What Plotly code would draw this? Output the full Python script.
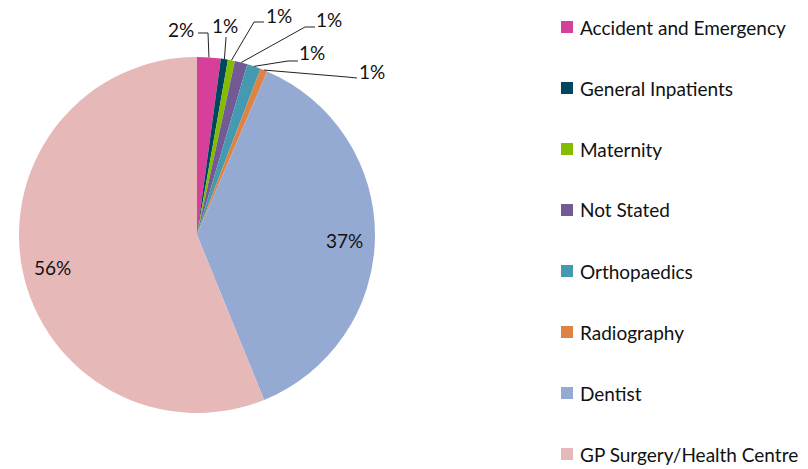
import math
import plotly.graph_objects as go

# ---- data ----
categories = ["Accident and Emergency", "General Inpatients", "Maternity", "Not Stated",
              "Orthopaedics", "Radiography", "Dentist", "GP Surgery/Health Centre"]
values = [2.14, 0.64, 0.64, 1.14, 1.25, 0.64, 37.4, 56.15]
colors = ["#D6409A", "#00465F", "#84BD00", "#725A95", "#4599B0", "#DE8344", "#95AAD2", "#E6B9B8"]

# ---- layout constants (pixels) ----
W, H = 808, 469
CX, CY, R = 197, 235, 178
FONT = "Lato"
FS = 19
# outside label centres and leader line start/elbow for the small slices
OUT_LABEL = {0: (181, 29), 1: (225, 26), 2: (279, 15), 3: (329, 19), 4: (312, 53), 5: (372, 71)}
LEADER = {0: [(198, 33), (208, 33)], 1: [(226, 37), (226, 38)], 2: [(264, 22), (254, 22)],
          3: [(315, 27), (305, 27)], 4: [(298, 61), (288, 61)], 5: [(357, 78), (347, 77)]}
INSIDE_R = 0.83


def px(x):
    return x / W


def py(y):
    return 1 - y / H


total = sum(values)
fig = go.Figure(go.Pie(
    labels=categories, values=values, sort=False, direction="clockwise", rotation=0,
    marker=dict(colors=colors, line=dict(width=0)),
    textinfo="none", hoverinfo="label+percent", showlegend=False,
    domain=dict(x=[px(CX - R), px(CX + R)], y=[py(CY + R), py(CY - R)]),
))

annotations = []
shapes = []
cum = 0.0
for i, v in enumerate(values):
    mid = (cum + v / 2) / total * 2 * math.pi
    cum += v
    label = f"{v / total * 100:.0f}%"
    if i in OUT_LABEL:
        ex = CX + R * math.sin(mid)
        ey = CY - R * math.cos(mid)
        pts = LEADER[i] + [(ex, ey)]
        path = "M " + " L ".join(f"{px(x):.5f},{py(y):.5f}" for x, y in pts)
        shapes.append(dict(type="path", xref="paper", yref="paper", path=path,
                           line=dict(color="#222", width=1)))
        lx, ly = OUT_LABEL[i]
    else:
        lx = CX + INSIDE_R * R * math.sin(mid)
        ly = CY - INSIDE_R * R * math.cos(mid) + 4
    annotations.append(dict(x=px(lx), y=py(ly), xref="paper", yref="paper", text=label,
                            showarrow=False, xanchor="center", yanchor="middle",
                            font=dict(family=FONT, size=FS, color="#111")))

# manual legend
LEG_X, LEG_Y0, LEG_DY, SQ = 561, 27, 61, 12
for i, (c, col) in enumerate(zip(categories, colors)):
    yc = LEG_Y0 + i * LEG_DY
    shapes.append(dict(type="rect", xref="paper", yref="paper",
                       x0=px(LEG_X), x1=px(LEG_X + SQ), y0=py(yc + SQ / 2), y1=py(yc - SQ / 2),
                       fillcolor=col, line=dict(width=0)))
    annotations.append(dict(x=px(LEG_X + SQ + 5), y=py(yc), xref="paper", yref="paper", text=c,
                            showarrow=False, xanchor="left", yanchor="middle",
                            font=dict(family=FONT, size=FS, color="#111")))

fig.update_layout(width=W, height=H, margin=dict(l=0, r=0, t=0, b=0),
                  paper_bgcolor="white", plot_bgcolor="white",
                  annotations=annotations, shapes=shapes)
fig.write_html("out.html", config={"displayModeBar": False},
               post_script="document.body.style.margin='0';")
